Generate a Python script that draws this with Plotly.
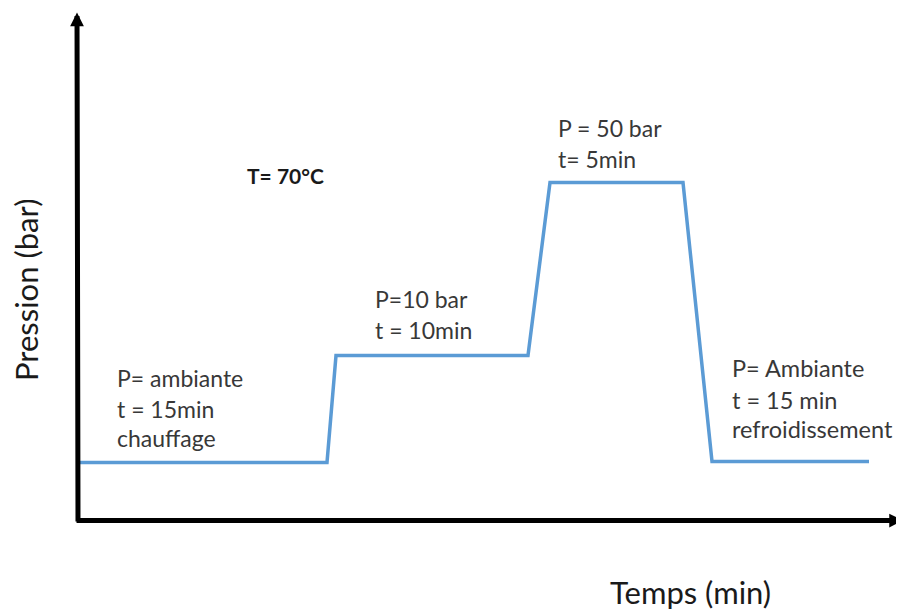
import plotly.graph_objects as go

# Schematic pressure profile (arbitrary units)
temps = [2, 249, 258, 450, 472, 605, 634, 791]
pression = [58, 58, 165, 165, 338, 338, 59, 59]

# Stage labels (one list per stage, one entry per line)
etape_1 = ["P= ambiante", "t = 15min", "chauffage"]
etape_2 = ["P=10 bar", "t = 10min"]
etape_3 = ["P = 50 bar", "t= 5min"]
etape_4 = ["P= Ambiante", "t = 15 min", "refroidissement"]
temperature = "T= 70°C"
titre_x = "Temps (min)"
titre_y = "Pression (bar)"

FONT = "Lato, Calibri, 'Open Sans', sans-serif"
TXT = "#383838"

fig = go.Figure()
fig.add_trace(go.Scatter(x=temps, y=pression, mode="lines",
                         line=dict(color="#5B9BD5", width=3.5),
                         hoverinfo="skip", showlegend=False))

ann = []
# axes drawn as arrows
ann.append(dict(x=-1, y=508, ax=0, ay=-2.5, xref="x", yref="y", axref="x", ayref="y",
                text="", showarrow=True, arrowhead=2, arrowsize=0.55, arrowwidth=5,
                arrowcolor="#000000"))
ann.append(dict(x=1.0045, y=0, ax=-833, ay=0, xref="paper", yref="y",
                axref="pixel", ayref="pixel",
                text="", showarrow=True, arrowhead=2, arrowsize=0.55, arrowwidth=5,
                arrowcolor="#000000"))

def add_lines(lines, x0, ys, size=23):
    for t, yy in zip(lines, ys):
        ann.append(dict(x=x0, y=yy, xref="x", yref="y", text=t, showarrow=False,
                        xanchor="left", yanchor="middle",
                        font=dict(family=FONT, size=size, color=TXT)))

add_lines(etape_1, 37, [142.5, 111.5, 82.5])
add_lines(etape_2, 295, [221.5, 190.5])
add_lines(etape_3, 478, [392.5, 361.5])
add_lines(etape_4, 652, [152.5, 120.5, 91.5], size=23.5)

ann.append(dict(x=167, y=345.5, xref="x", yref="y", text="<b>%s</b>" % temperature,
                showarrow=False, xanchor="left", yanchor="middle",
                font=dict(family=FONT, size=21, color="#1a1a1a")))
ann.append(dict(x=-52, y=230.5, xref="x", yref="y", text=titre_y, textangle=-90,
                showarrow=False, xanchor="center", yanchor="middle",
                font=dict(family=FONT, size=31, color="#1a1a1a")))
ann.append(dict(x=612, y=-71, xref="x", yref="y", text=titre_x,
                showarrow=False, xanchor="center", yanchor="middle",
                font=dict(family=FONT, size=31, color="#1a1a1a")))

# page body has an 8px default margin: figure covers page pixels 8..904 x 8..610
fig.update_layout(
    width=896, height=602, autosize=False,
    margin=dict(l=0, r=0, t=0, b=0),
    paper_bgcolor="white", plot_bgcolor="white",
    xaxis=dict(range=[-70, 826], visible=False, fixedrange=True),
    yaxis=dict(range=[-89.5, 512.5], visible=False, fixedrange=True),
    annotations=ann, showlegend=False,
)
fig.write_html("out.html")
